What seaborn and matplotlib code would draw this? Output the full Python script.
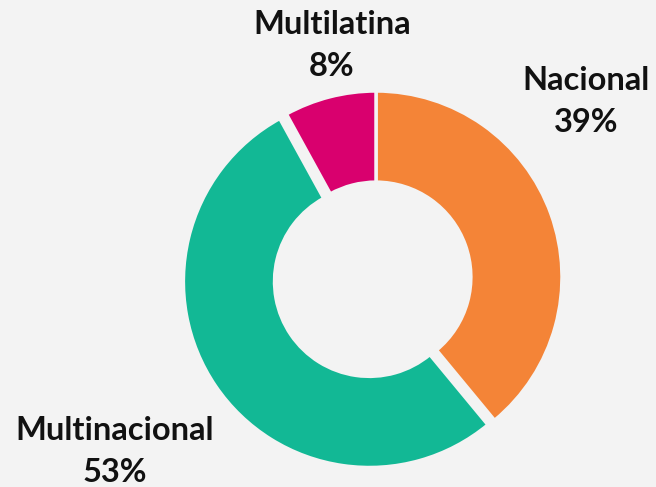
import matplotlib.pyplot as plt
import seaborn as sns

# share of companies by type
categories = ["Nacional", "Multinacional", "Multilatina"]
shares = [39, 53, 8]
colors = ["#F48437", "#12B895", "#D9006E"]

sns.set_theme(style="white")
plt.rcParams['font.family'] = ['Lato', 'DejaVu Sans']

bg = "#F3F3F3"
fig = plt.figure(figsize=(6.56, 4.87), dpi=100, facecolor=bg)
ax = fig.add_axes([0, 0, 1, 1])
ax.set_facecolor(bg)

# pixel-like coordinates, y going up
W, H = 656, 487
cx, cy, r = 376, H - 277, 186

# explode is in data units here (pixels)
ax.pie(shares, colors=colors, startangle=90, counterclock=False,
       center=(cx, cy), radius=r, explode=[0, 8, 0],
       wedgeprops=dict(width=r * 0.49, edgecolor=bg, linewidth=2.5))

ax.set_xlim(0, W)
ax.set_ylim(0, H)
ax.set_aspect('equal')
ax.axis('off')

# label placement (pixel positions from the top-left)
label_pos = {"Nacional": (586, 80), "Multinacional": (115, 431), "Multilatina": (332, 25)}
for name, val in zip(categories, shares):
    x, y = label_pos[name]
    ax.text(x, H - y, name, ha='center', va='center', fontsize=23.5,
            fontweight='bold', color='#111111')
    ax.text(x, H - y - 42, f"{val}%", ha='center', va='center', fontsize=23.5,
            fontweight='bold', color='#111111')

fig.savefig("out.png", dpi=100, facecolor=bg)
